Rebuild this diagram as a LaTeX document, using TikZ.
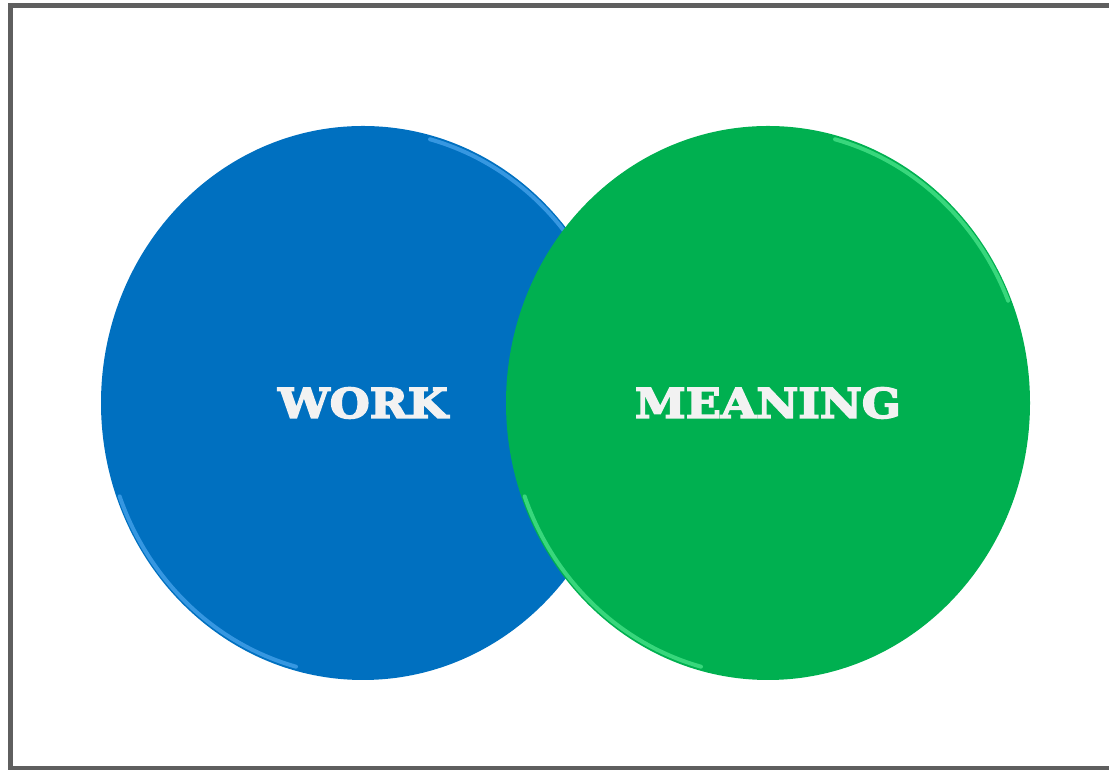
\documentclass[tikz,border=0pt]{standalone}
\usepackage{fontspec}
\newfontfamily\slabfont[FakeStretch=1.12,BoldFeatures={FakeBold=4}]{DejaVu Serif}
\usetikzlibrary{shapes.geometric,positioning}
\definecolor{workblue}{HTML}{0070C0}
\definecolor{workrim}{HTML}{4DA8F0}
\definecolor{meangreen}{HTML}{00B050}
\definecolor{meanrim}{HTML}{50E890}
\definecolor{framegray}{HTML}{5F5F5F}
\definecolor{textwhite}{HTML}{F2F2F2}
\tikzset{
    circ/.style={ellipse, draw=none, minimum width=524pt, minimum height=554pt, inner sep=0pt},
    rim/.style={line width=4pt, opacity=0.7, line cap=round},
    label/.style={font=\slabfont\bfseries\fontsize{41}{41}\selectfont, text=textwhite}
}

\begin{document}
\begin{tikzpicture}[x=1pt,y=1pt]

    \useasboundingbox (0,0) rectangle (1109,770);

    %frame
    \draw [framegray, line width=5pt] (1120,764) -- (10.5,764) -- (10.5,1) -- (1120,1);

    %circles
    \node[circ, fill=workblue] (work) at (363,367) {};
    \draw [rim, workrim] (work.center) ++(22:259 and 273) arc[start angle=22, end angle=75, x radius=259, y radius=273];
    \draw [rim, workrim] (work.center) ++(200:259 and 273) arc[start angle=200, end angle=255, x radius=259, y radius=273];

    \node[circ, fill=meangreen] (meaning) at (768,367) {};
    \draw [rim, meanrim] (meaning.center) ++(22:259 and 273) arc[start angle=22, end angle=75, x radius=259, y radius=273];
    \draw [rim, meanrim] (meaning.center) ++(200:259 and 273) arc[start angle=200, end angle=255, x radius=259, y radius=273];

    %labels
    \node[label] (worktext) at (work.center) {WORK};
    \node[label] (meaningtext) at (meaning.center) {MEANING};

\end{tikzpicture}
\end{document}
